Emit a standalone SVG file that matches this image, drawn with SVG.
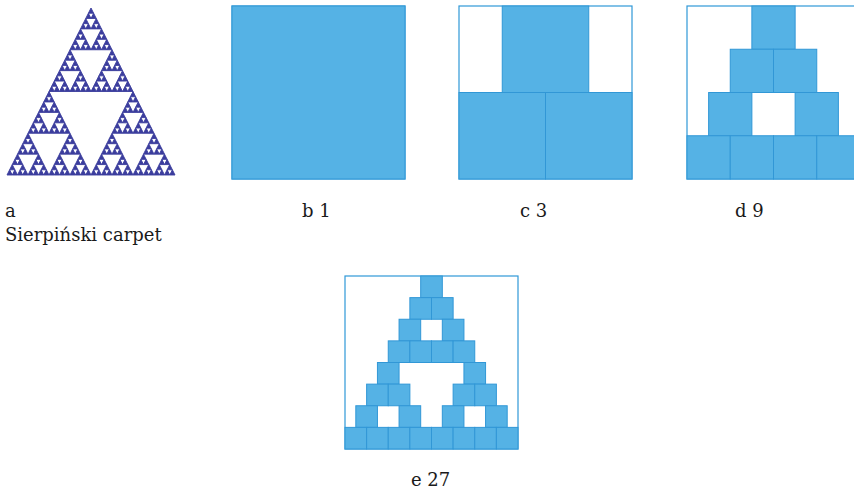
<svg xmlns="http://www.w3.org/2000/svg" xmlns:xlink="http://www.w3.org/1999/xlink" width="854" height="489" viewBox="0 0 854 489">
<style>
.box{fill:#ffffff;stroke:#2f98d8;stroke-width:1.2}
.sq{fill:#55b2e5;stroke:#3197d6;stroke-width:1}
.lbl{font-family:"DejaVu Serif","Liberation Serif",serif;font-size:18px;fill:#1a1a1a}
.tri{stroke:#3b3d9d;stroke-width:0.9;stroke-linejoin:round;vector-effect:non-scaling-stroke}
</style>
<defs>
<polygon id="t0" class="tri" points="84,0 168,167 0,167"/>
<g id="t1"><use href="#t0" transform="translate(42,0) scale(.5)"/><use href="#t0" transform="translate(0,83.5) scale(.5)"/><use href="#t0" transform="translate(84,83.5) scale(.5)"/></g>
<g id="t2"><use href="#t1" transform="translate(42,0) scale(.5)"/><use href="#t1" transform="translate(0,83.5) scale(.5)"/><use href="#t1" transform="translate(84,83.5) scale(.5)"/></g>
<g id="t3"><use href="#t2" transform="translate(42,0) scale(.5)"/><use href="#t2" transform="translate(0,83.5) scale(.5)"/><use href="#t2" transform="translate(84,83.5) scale(.5)"/></g>
<g id="t4"><use href="#t3" transform="translate(42,0) scale(.5)"/><use href="#t3" transform="translate(0,83.5) scale(.5)"/><use href="#t3" transform="translate(84,83.5) scale(.5)"/></g>
<g id="t5"><use href="#t4" transform="translate(42,0) scale(.5)"/><use href="#t4" transform="translate(0,83.5) scale(.5)"/><use href="#t4" transform="translate(84,83.5) scale(.5)"/></g>
</defs>

<g id="panel-a">
<use href="#t5" transform="translate(7,8)" fill="#3b3d9d"/>
<text class="lbl" x="5" y="217">a</text>
<text class="lbl" x="5" y="241">Sierpiński carpet</text>
</g>

<g id="panel-b">
<rect class="box" x="232" y="6" width="173" height="173"/>
<rect class="sq" x="232" y="6" width="173" height="173"/>
<text class="lbl" x="302" y="217">b 1</text>
</g>

<g id="panel-c">
<rect class="box" x="459" y="6" width="173" height="173"/>
<rect class="sq" x="502.25" y="6" width="86.5" height="86.5"/>
<rect class="sq" x="459" y="92.5" width="86.5" height="86.5"/>
<rect class="sq" x="545.5" y="92.5" width="86.5" height="86.5"/>
<text class="lbl" x="520" y="217">c 3</text>
</g>

<g id="panel-d">
<rect class="box" x="687" y="6" width="173" height="173"/>
<g>
<rect class="sq" x="751.875" y="6" width="43.25" height="43.25"/>
<rect class="sq" x="730.25" y="49.25" width="43.25" height="43.25"/>
<rect class="sq" x="773.5" y="49.25" width="43.25" height="43.25"/>
<rect class="sq" x="708.625" y="92.5" width="43.25" height="43.25"/>
<rect class="sq" x="795.125" y="92.5" width="43.25" height="43.25"/>
<rect class="sq" x="687" y="135.75" width="43.25" height="43.25"/>
<rect class="sq" x="730.25" y="135.75" width="43.25" height="43.25"/>
<rect class="sq" x="773.5" y="135.75" width="43.25" height="43.25"/>
<rect class="sq" x="816.75" y="135.75" width="43.25" height="43.25"/>
</g>
<text class="lbl" x="735" y="217">d 9</text>
</g>

<g id="panel-e">
<rect class="box" x="345" y="276" width="173" height="173"/>
<g>
<rect class="sq" x="420.6875" y="276" width="21.625" height="21.625"/>
<rect class="sq" x="409.875" y="297.625" width="21.625" height="21.625"/>
<rect class="sq" x="431.5" y="297.625" width="21.625" height="21.625"/>
<rect class="sq" x="399.0625" y="319.25" width="21.625" height="21.625"/>
<rect class="sq" x="442.3125" y="319.25" width="21.625" height="21.625"/>
<rect class="sq" x="388.25" y="340.875" width="21.625" height="21.625"/>
<rect class="sq" x="409.875" y="340.875" width="21.625" height="21.625"/>
<rect class="sq" x="431.5" y="340.875" width="21.625" height="21.625"/>
<rect class="sq" x="453.125" y="340.875" width="21.625" height="21.625"/>
<rect class="sq" x="377.4375" y="362.5" width="21.625" height="21.625"/>
<rect class="sq" x="463.9375" y="362.5" width="21.625" height="21.625"/>
<rect class="sq" x="366.625" y="384.125" width="21.625" height="21.625"/>
<rect class="sq" x="388.25" y="384.125" width="21.625" height="21.625"/>
<rect class="sq" x="453.125" y="384.125" width="21.625" height="21.625"/>
<rect class="sq" x="474.75" y="384.125" width="21.625" height="21.625"/>
<rect class="sq" x="355.8125" y="405.75" width="21.625" height="21.625"/>
<rect class="sq" x="399.0625" y="405.75" width="21.625" height="21.625"/>
<rect class="sq" x="442.3125" y="405.75" width="21.625" height="21.625"/>
<rect class="sq" x="485.5625" y="405.75" width="21.625" height="21.625"/>
<rect class="sq" x="345" y="427.375" width="21.625" height="21.625"/>
<rect class="sq" x="366.625" y="427.375" width="21.625" height="21.625"/>
<rect class="sq" x="388.25" y="427.375" width="21.625" height="21.625"/>
<rect class="sq" x="409.875" y="427.375" width="21.625" height="21.625"/>
<rect class="sq" x="431.5" y="427.375" width="21.625" height="21.625"/>
<rect class="sq" x="453.125" y="427.375" width="21.625" height="21.625"/>
<rect class="sq" x="474.75" y="427.375" width="21.625" height="21.625"/>
<rect class="sq" x="496.375" y="427.375" width="21.625" height="21.625"/>
</g>
<text class="lbl" x="411" y="486">e 27</text>
</g>
</svg>
